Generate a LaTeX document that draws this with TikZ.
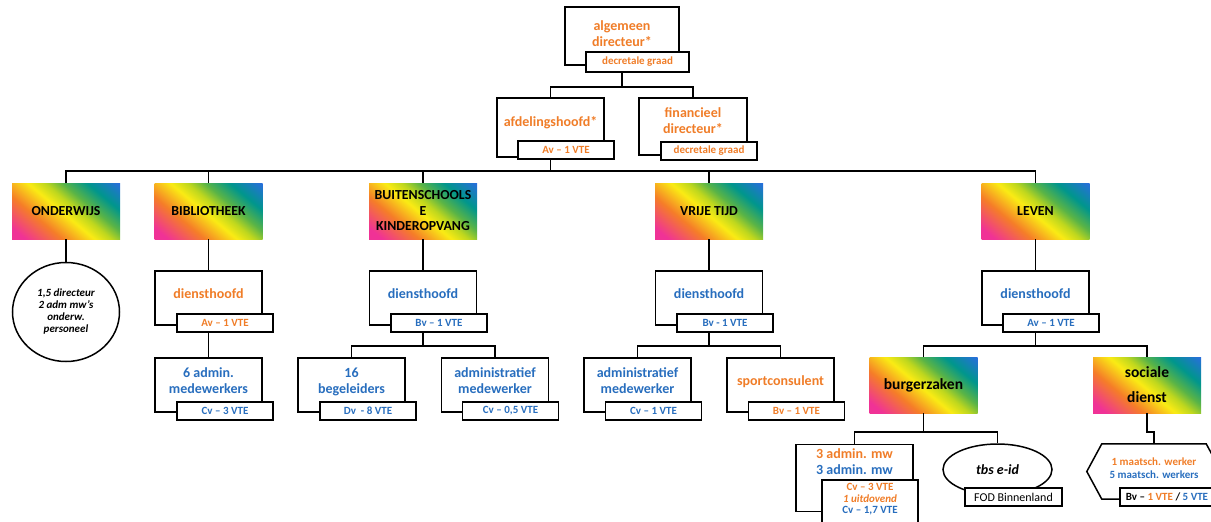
\documentclass[tikz,border=0pt]{standalone}
\usepackage{fontspec}
\setmainfont{Carlito}
\usetikzlibrary{shapes.geometric}

\definecolor{orng}{RGB}{240,125,40}
\definecolor{blu}{RGB}{40,110,190}
\definecolor{rbpink}{RGB}{240,50,150}
\definecolor{rborange}{RGB}{245,125,40}
\definecolor{rbyellow}{RGB}{250,235,20}
\definecolor{rbygreen}{RGB}{190,215,30}
\definecolor{rbgreen}{RGB}{90,180,70}
\definecolor{rbteal}{RGB}{0,150,140}
\definecolor{rbblue}{RGB}{40,110,220}
\pgfdeclarehorizontalshading{rainbow}{100bp}{color(0bp)=(rbpink); color(20bp)=(rbpink); color(35bp)=(rborange); color(48bp)=(rbyellow); color(55bp)=(rbygreen); color(62bp)=(rbgreen); color(72bp)=(rbteal); color(85bp)=(rbblue); color(100bp)=(rbblue)}

\tikzset{
  card/.style={draw, fill=white, line width=1.5pt, minimum width=107pt, minimum height=54pt, inner sep=2pt, align=center, text depth=8pt, font=\fontsize{14}{16}\selectfont\bfseries},
  sub/.style={draw, fill=white, line width=1.5pt, minimum width=96pt, minimum height=18pt, inner sep=1pt, align=center, font=\fontsize{11}{11.5}\selectfont\bfseries},
  dept/.style={shade, shading=rainbow, shading angle=50, minimum width=108pt, minimum height=56pt, inner sep=2pt, align=center, font=\fontsize{13.8}{15.5}\selectfont\bfseries},
  oval/.style={draw, ellipse, line width=1.5pt, inner sep=0pt, align=center},
  link/.style={line width=1.5pt}
}

\begin{document}
\begin{tikzpicture}[x=1pt, y=-1pt]
    \useasboundingbox (0,0) rectangle (1211,522);
    \clip (0,0) rectangle (1211,522);
    % top
    \node[card, text=orng, minimum width=114pt, minimum height=58pt, text depth=4pt] (ad) at (622,36) {algemeen\\directeur*};
    \node[sub, text=orng, minimum width=103pt, minimum height=20pt] (ads) at (637.5,62) {decretale graad};
    \node[card, text=orng, minimum height=59pt, text depth=13pt] (afd) at (550.5,127.5) {afdelingshoofd*};
    \node[sub, text=orng] (afds) at (566,150) {Av – 1 VTE};
    \node[card, text=orng, minimum width=108pt, minimum height=57pt, text depth=12pt] (fin) at (693,126.5) {financieel\\directeur*};
    \node[sub, text=orng] (fins) at (709,151) {decretale graad};
    % departments
    \node[dept] (ond) at (66,211) {ONDERWIJS};
    \node[dept] (bib) at (208.5,211) {BIBLIOTHEEK};
    \node[dept] (bko) at (423,211) {BUITENSCHOOLS\\E\\KINDEROPVANG};
    \node[dept] (vt) at (709,211) {VRIJE TIJD};
    \node[dept] (lev) at (1035.5,211) {LEVEN};
    % onderwijs
    \node[oval, minimum width=107pt, minimum height=99pt, font=\fontsize{11}{12}\selectfont\bfseries\itshape] (ondp) at (66,312) {1,5 directeur\\2 adm mw’s\\onderw.\\personeel};
    % bibliotheek
    \node[card, text=orng] (bibd) at (208.5,298) {diensthoofd};
    \node[sub, text=orng] (bibds) at (225,323) {Av – 1 VTE};
    \node[card, text=blu] (bibm) at (208.5,385) {6 admin.\\medewerkers};
    \node[sub, text=blu] (bibms) at (225,411) {Cv – 3 VTE};
    % buitenschoolse kinderopvang
    \node[card, text=blu] (bkod) at (423,298) {diensthoofd};
    \node[sub, text=blu] (bkods) at (439,323) {Bv – 1 VTE};
    \node[card, text=blu] (beg) at (351.5,385) {16\\begeleiders};
    \node[sub, text=blu] (begs) at (368,411) {Dv\ \ - 8 VTE};
    \node[card, text=blu] (bkoa) at (495,385) {administratief\\medewerker};
    \node[sub, text=blu] (bkoas) at (510.5,411) {Cv – 0,5 VTE};
    % vrije tijd
    \node[card, text=blu] (vtd) at (709,298) {diensthoofd};
    \node[sub, text=blu] (vtds) at (725,323) {Bv - 1 VTE};
    \node[card, text=blu] (vta) at (637.5,385) {administratief\\medewerker};
    \node[sub, text=blu] (vtas) at (653.5,411) {Cv – 1 VTE};
    \node[card, text=orng] (spc) at (780.5,385) {sportconsulent};
    \node[sub, text=orng] (spcs) at (796.5,411) {Bv – 1 VTE};
    % leven
    \node[card, text=blu] (levd) at (1035.5,298) {diensthoofd};
    \node[sub, text=blu] (levds) at (1051,323) {Av – 1 VTE};
    \node[dept, font=\fontsize{15.5}{17}\selectfont\bfseries] (bz) at (923.5,385) {burgerzaken};
    \node[dept, font=\fontsize{15.5}{25}\selectfont\bfseries] (sd) at (1147,385) {sociale\\dienst};
    \node[card, minimum width=117pt, minimum height=67pt, text depth=33pt] (adm) at (854.5,478) {\textcolor{orng}{3 admin. mw}\\\textcolor{blu}{3 admin. mw}};
    \node[sub, minimum height=44pt, text depth=7pt] (adms) at (870,502) {\textcolor{orng}{Cv – 3 VTE}\\\textcolor{orng}{\itshape 1 uitdovend}\\\textcolor{blu}{Cv – 1,7 VTE}};
    \node[oval, minimum width=109pt, minimum height=51pt, font=\fontsize{14}{16}\selectfont\bfseries\itshape] (tbs) at (997.5,469.5) {tbs e-id};
    \node[sub, minimum width=97pt, font=\fontsize{12}{13}\selectfont] (fod) at (1013.5,497) {FOD Binnenland};
    \node[minimum width=104pt, minimum height=55pt, inner sep=0pt, align=center, text depth=6pt, font=\fontsize{11}{13}\selectfont\bfseries] (sdw) at (1154,471.5) {\textcolor{orng}{1 maatsch. werker}\\\textcolor{blu}{5 maatsch. werkers}};
    \draw[link] (sdw.north west) -- (sdw.north east) -- ([xshift=15pt]sdw.east) -- (sdw.south east) -- (sdw.south west) -- ([xshift=-15pt]sdw.west) -- cycle;
    \node[sub, minimum width=94pt] (sdws) at (1167,497) {Bv – \textcolor{orng}{1 VTE} / \textcolor{blu}{5 VTE}};
    % lines
    \draw[link] (ad.south |- ads.south) -- ++(0,14) -| (afd.north)
        (ad.south |- ads.south) -- ++(0,14) -| (fin.north)
        (afd.south |- afds.south) -- ++(0,11) -| (ond.north)
        (afd.south |- afds.south) -- ++(0,11) -| (bib.north)
        (afd.south |- afds.south) -- ++(0,11) -| (bko.north)
        (afd.south |- afds.south) -- ++(0,11) -| (vt.north)
        (afd.south |- afds.south) -- ++(0,11) -| (lev.north)
        (ond.south) -- (ondp.north)
        (bib.south) -- (bibd.north)
        (bibd.south |- bibds.south) -- (bibm.north)
        (bko.south) -- (bkod.north)
        (bkod.south |- bkods.south) -- ++(0,13) -| (beg.north)
        (bkod.south |- bkods.south) -- ++(0,13) -| (bkoa.north)
        (vt.south) -- (vtd.north)
        (vtd.south |- vtds.south) -- ++(0,13) -| (vta.north)
        (vtd.south |- vtds.south) -- ++(0,13) -| (spc.north)
        (lev.south) -- (levd.north)
        (levd.south |- levds.south) -- ++(0,13) -| (bz.north)
        (levd.south |- levds.south) -- ++(0,13) -| (sd.north)
        (bz.south) -- ++(0,19) -| (adm.north)
        (bz.south) -- ++(0,19) -| (tbs.north)
        (sd.south) -- ++(0,19) -| (sdw.north);
\end{tikzpicture}
\end{document}
